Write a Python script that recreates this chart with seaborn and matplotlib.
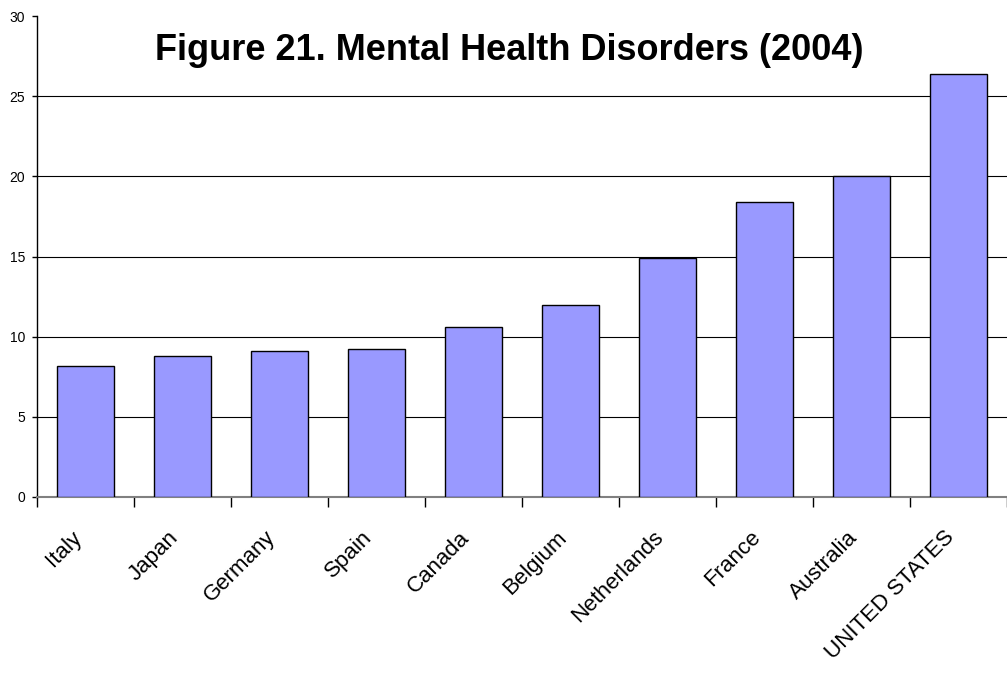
import matplotlib
matplotlib.use("Agg")
import matplotlib.pyplot as plt
from matplotlib.transforms import ScaledTranslation
import seaborn as sns
import pandas as pd

countries = ["Italy", "Japan", "Germany", "Spain", "Canada", "Belgium",
             "Netherlands", "France", "Australia", "UNITED STATES"]
values = [8.2, 8.8, 9.1, 9.2, 10.6, 12.0, 14.9, 18.4, 20.0, 26.4]
yticks = [0, 5, 10, 15, 20, 25, 30]

sns.set_style("white")
plt.rcParams['font.family'] = ['Liberation Sans', 'DejaVu Sans']
plt.rcParams['text.color'] = 'black'
plt.rcParams['xtick.color'] = 'black'
plt.rcParams['ytick.color'] = 'black'

df = pd.DataFrame({"country": countries, "value": values})

W, H = 1007, 673
fig = plt.figure(figsize=(W / 100, H / 100), dpi=100)
ax = fig.add_axes([37 / W, (H - 497) / H, (1007 - 37) / W, (497 - 16) / H])

sns.barplot(data=df, x="country", y="value", color="#9999FF",
            edgecolor="black", linewidth=1.0, width=0.58, saturation=1, ax=ax, zorder=3)

ax.set_ylim(0, 30)
ax.set_xlim(-0.5, len(countries) - 0.5)
ax.set_yticks(yticks)
ax.set_yticklabels([str(t) for t in yticks], fontsize=10)
for t in yticks[1:-1]:
    ax.axhline(t, color="black", lw=0.8, zorder=1)

# category labels at centers, ticks at boundaries
ax.set_xticks(range(len(countries)))
ax.set_xticklabels(countries, rotation=45, ha="right", rotation_mode="anchor", fontsize=16)
ax.tick_params(axis="x", which="major", length=0, pad=21.5)
offset = ScaledTranslation(-14.5 / 100, 0, fig.dpi_scale_trans)
for lab in ax.get_xticklabels():
    lab.set_transform(lab.get_transform() + offset)
ax.set_xticks([i - 0.5 for i in range(len(countries) + 1)], minor=True)
ax.tick_params(axis="x", which="minor", length=7, width=1, color="black", direction="out", bottom=True)
ax.tick_params(axis="y", length=3.6, width=1, color="black", direction="out", left=True, pad=5)

ax.set_xlabel("")
ax.set_ylabel("")
for s in ["top", "right"]:
    ax.spines[s].set_visible(False)
ax.spines["left"].set_color("black")
ax.spines["left"].set_linewidth(1)
ax.spines["bottom"].set_color("#808080")
ax.spines["bottom"].set_linewidth(1.5)

fig.text(509 / W, 1 - 60 / H, "Figure 21. Mental Health Disorders (2004)",
         ha="center", va="baseline", fontsize=26, fontweight="bold", color="black")

fig.savefig("out.png", dpi=100)
